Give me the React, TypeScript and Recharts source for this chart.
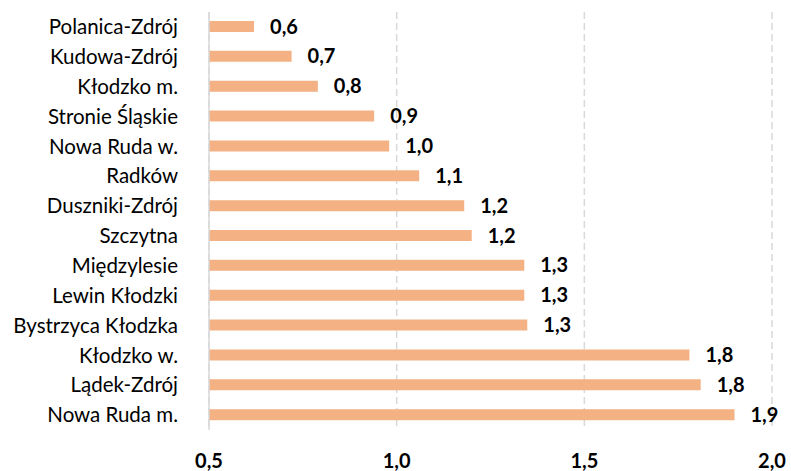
import React from 'react';
import { BarChart, Bar, XAxis, YAxis, CartesianGrid, LabelList } from 'recharts';

// gminy, sorted top to bottom as in the picture
const gminy = [
  'Polanica-Zdrój',
  'Kudowa-Zdrój',
  'Kłodzko m.',
  'Stronie Śląskie',
  'Nowa Ruda w.',
  'Radków',
  'Duszniki-Zdrój',
  'Szczytna',
  'Międzylesie',
  'Lewin Kłodzki',
  'Bystrzyca Kłodzka',
  'Kłodzko w.',
  'Lądek-Zdrój',
  'Nowa Ruda m.',
];

const wartosci = [0.62, 0.72, 0.79, 0.94, 0.98, 1.06, 1.18, 1.2, 1.34, 1.34, 1.348, 1.78, 1.81, 1.9];

const xTicks = [0.5, 1.0, 1.5, 2.0];

const data = gminy.map((name, i) => ({ name, value: wartosci[i] }));

const fmt = (v: any) => Number(v).toFixed(1).replace('.', ',');

const FONT = 'Lato, "Open Sans", sans-serif';

export default function App() {
  return (
    <div style={{ position: 'absolute', left: 0, top: 0, width: 791, height: 471, background: '#fff' }}>
      <BarChart
        width={791}
        height={471}
        data={data}
        layout="vertical"
        margin={{ top: 12, right: 19, bottom: 0, left: 0 }}
        barCategoryGap={0}
      >
        <CartesianGrid horizontal={false} stroke="#d9d9d9" strokeWidth={1.5} strokeDasharray="7 4" />
        <XAxis
          type="number"
          domain={[0.5, 2.0]}
          ticks={xTicks}
          tickFormatter={fmt}
          axisLine={false}
          tickLine={false}
          tickMargin={18}
          height={41}
          tick={{ fill: '#000', fontSize: 20, fontWeight: 700, fontFamily: FONT }}
          interval={0}
        />
        <YAxis
          type="category"
          dataKey="name"
          width={209}
          axisLine={{ stroke: '#d9d9d9', strokeWidth: 1.5 }}
          tickLine={false}
          tickMargin={25}
          interval={0}
          tick={{ fill: '#000', fontSize: 20.5, fontFamily: FONT }}
        />
        <Bar dataKey="value" fill="#F4B183" barSize={11} isAnimationActive={false}>
          <LabelList
            dataKey="value"
            position="right"
            offset={16}
            formatter={fmt}
            style={{ fill: '#000', fontSize: 20, fontWeight: 700, fontFamily: FONT }}
          />
        </Bar>
      </BarChart>
    </div>
  );
}
